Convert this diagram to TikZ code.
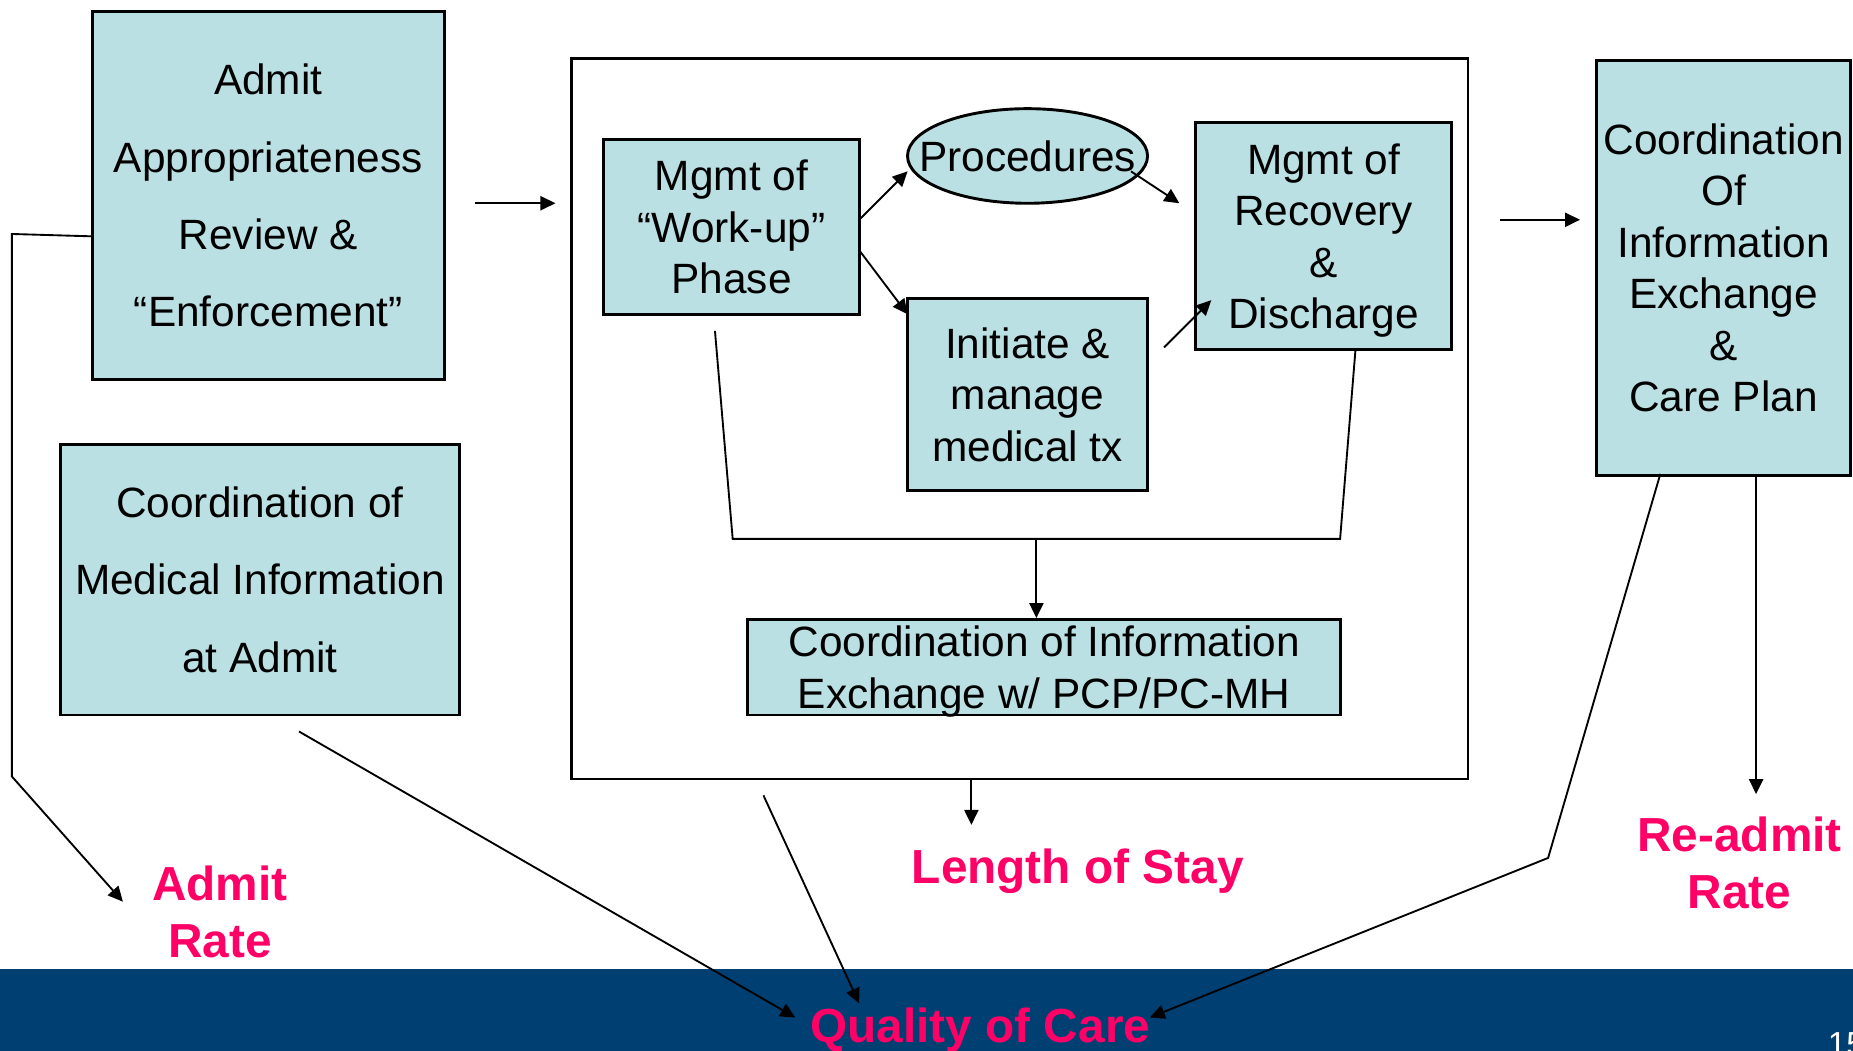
\documentclass[tikz,border=0pt]{standalone}
\usepackage{fontspec}
\setmainfont{Liberation Sans}
\usepackage{xcolor}
\usepackage{tikz}
\usetikzlibrary{arrows.meta,shapes.geometric}
\definecolor{boxfill}{RGB}{187,224,227}
\definecolor{ratepink}{RGB}{255,0,102}
\definecolor{bandblue}{RGB}{0,63,114}
\tikzset{
  carenode/.style = {align=center, inner sep=0pt, text centered, draw=black,
    fill=boxfill, line width=0.7pt},
  care_w/.style = {carenode, font=\fontsize{10.2}{18.6}\selectfont},% boite, lignes larges
  care_n/.style = {carenode, font=\fontsize{10.2}{12.4}\selectfont},% boite, lignes serrees
  care_t/.style = {align=center, inner sep=0pt, font=\fontsize{10.2}{12.4}\selectfont},% texte seul
  outcome/.style = {align=center, inner sep=0pt, ratepink,
    font=\fontsize{11.5}{13.7}\selectfont\bfseries},% resultat en rose
  link/.style = {line width=0.45pt}
}

\begin{document}
\begin{tikzpicture}[x=0.01cm,y=-0.01cm,>={Triangle[length=3.6pt,width=3.4pt]}]
\useasboundingbox (0,0) rectangle (1568,889);
\fill[bandblue] (-5,820) rectangle (1575,895);

% boites de gauche
\node (appr) [care_w, minimum width=2.98cm, minimum height=3.11cm] at (227,165.5)
  {Admit\\Appropriateness\\Review \&\\“Enforcement”};
\node (medinfo) [care_w, minimum width=3.38cm, minimum height=2.29cm] at (220,490.5)
  {Coordination of\\Medical Information\\at Admit};

% sejour
\node (stay) [draw=black, line width=0.7pt, inner sep=0pt, minimum width=7.58cm,
  minimum height=6.09cm] at (863,354.5) {};
\node (workup) [care_n, minimum width=2.16cm, minimum height=1.48cm] at (619,192)
  {Mgmt of\\“Work-up”\\Phase};
\node (proc) [carenode, ellipse, minimum width=2.03cm, minimum height=0.8cm] at (869.5,132) {};
\node (proc_txt) [care_t] at (proc) {Procedures};
\node (recov) [care_n, text depth=-0.8pt, minimum width=2.16cm, minimum height=1.92cm]
  at (1120,200) {Mgmt of\\Recovery\\\&\\Discharge};
\node (init) [care_n, minimum width=2.03cm, minimum height=1.62cm] at (869.5,334)
  {Initiate \&\\manage\\medical tx};
\node (xchg) [care_n, text depth=-0.8pt, minimum width=5.01cm, minimum height=0.81cm]
  at (883.5,564.5) {Coordination of Information\\Exchange w/ PCP/PC-MH};

% boite de droite
\node (careplan) [care_n, text depth=-1pt, minimum width=2.15cm, minimum height=3.51cm]
  at (1458.5,226.5)
  {Coordination\\Of\\Information\\Exchange\\\&\\Care Plan};

% resultats
\node (admit_rate) [outcome] at (186,772) {Admit\\Rate};
\node (los) [outcome, anchor=base] at (912,748) {Length of Stay};
\node (readmit) [outcome] at (1472,730) {Re-admit\\Rate};
\node (quality) [outcome, anchor=base] at (829.5,882) {Quality of Care};
\node (pageno) [white, inner sep=0pt, anchor=base west, font=\fontsize{8}{8}\selectfont]
  at (1546,893) {15};

% bouts libres
\coordinate (appr_out) at (402,172);   \coordinate (stay_in) at (470,172);
\coordinate (stay_out) at (1269,186);  \coordinate (cp_in) at (1337,186);
\coordinate (wu_a) at (728,185);       \coordinate (proc_in) at (768,145);
\coordinate (wu_b) at (728,213);       \coordinate (init_in) at (768,266);
\coordinate (proc_out) at (957,145);   \coordinate (rec_a) at (998,172);
\coordinate (init_out) at (985,294);   \coordinate (rec_b) at (1025,254);
\coordinate (brk_a) at (605,280);      \coordinate (brk_b) at (620,456);
\coordinate (brk_c) at (1134,456);     \coordinate (brk_d) at (1147,296);
\coordinate (brk_m) at (877,456);      \coordinate (xchg_in) at (877,523);
\coordinate (stay_dn) at (822,660);    \coordinate (los_in) at (822,698);
\coordinate (appr_l) at (78,200);      \coordinate (lp_a) at (10,198);
\coordinate (lp_b) at (10,657);        \coordinate (ar_in) at (104,763);
\coordinate (mi_out) at (253,619);     \coordinate (q_a) at (673,861);
\coordinate (stay_q) at (646,673);     \coordinate (q_b) at (727,849);
\coordinate (cp_a) at (1405,401);      \coordinate (cp_m) at (1310,726);
\coordinate (q_c) at (973,861);
\coordinate (cp_b) at (1486,403);      \coordinate (ra_in) at (1486,672);

\draw [link,->] (appr_out) -- (stay_in);
\draw [link,->] (stay_out) -- (cp_in);
\draw [link,->] (wu_a) -- (proc_in);
\draw [link,->] (wu_b) -- (init_in);
\draw [link,->] (proc_out) -- (rec_a);
\draw [link,->] (init_out) -- (rec_b);
\draw [link] (brk_a) -- (brk_b) -- (brk_c) -- (brk_d);
\draw [link,->] (brk_m) -- (xchg_in);
\draw [link,->] (stay_dn) -- (los_in);
\draw [link,->] (appr_l) -- (lp_a) -- (lp_b) -- (ar_in);
\draw [link,->] (mi_out) -- (q_a);
\draw [link,->] (stay_q) -- (q_b);
\draw [link,->] (cp_a) -- (cp_m) -- (q_c);
\draw [link,->] (cp_b) -- (ra_in);
\end{tikzpicture}
\end{document}
